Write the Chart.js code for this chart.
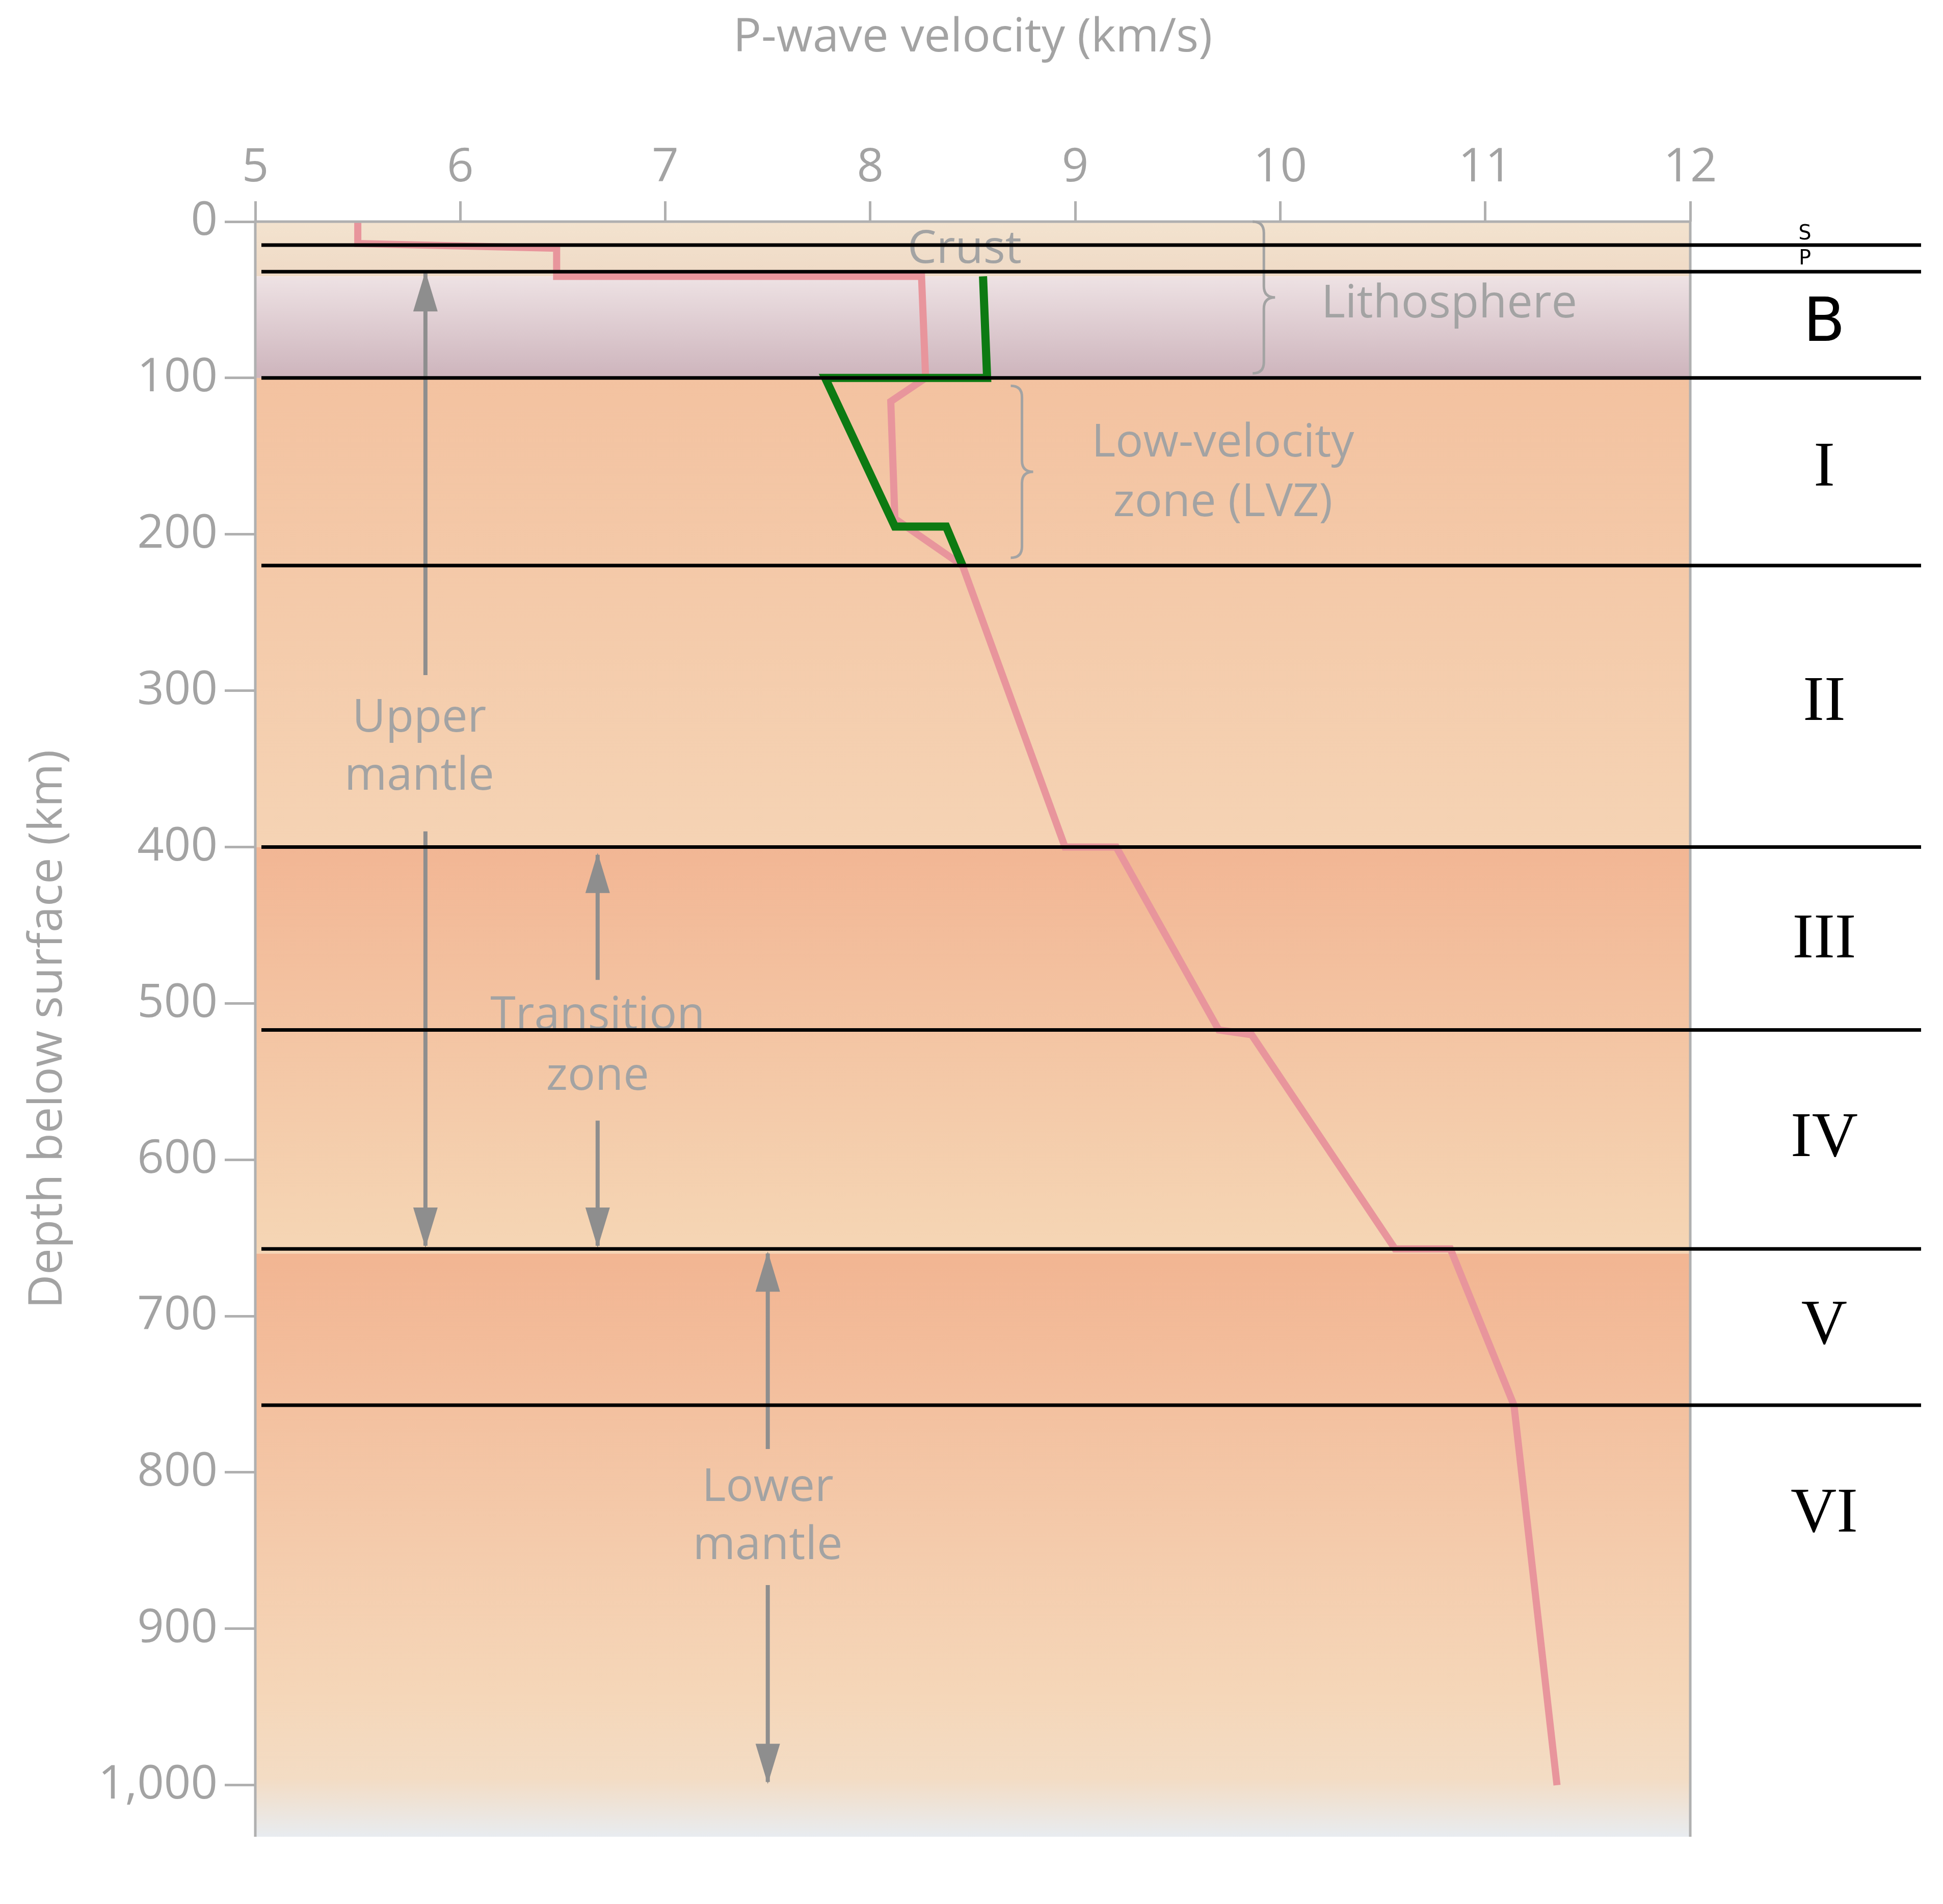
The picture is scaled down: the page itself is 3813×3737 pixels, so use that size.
<!DOCTYPE html>
<html><head><meta charset="utf-8">
<script src="https://cdn.jsdelivr.net/npm/chart.js@4/dist/chart.umd.min.js"></script>
<style>html,body{margin:0;padding:0;background:#fff}canvas{display:block}</style>
</head><body>
<div style="width:3813px;height:3737px"><canvas id="c"></canvas></div>
<script>
const xTicks = [5,6,7,8,9,10,11,12];
const yTicks = [0,100,200,300,400,500,600,700,800,900,1000];
const redVel   = [5.5,5.5,6.47,6.47,8.25,8.27,8.1,8.12,8.45,8.95,9.2,9.7,9.86,10.56,10.83,11.14,11.35];
const redDepth = [0,14,17,35,35,100,115,190,220,400,400,517,520,657,657,757,1000];
const greenVel   = [8.55,8.57,7.78,8.12,8.37,8.45];
const greenDepth = [35,100,100,195,195,220];
const boundaryDepths = [15,32,100,220,400,517,657,757];
const layerLabels = [["S",8],["P",24],["B",66],["I",158],["II",308],["III",460],["IV",587],["V",707],["VI",827]];

const gray = '#a3a3a3';
const bg = {id:'bg', beforeDatasetsDraw(ch){
  const {ctx,chartArea:a,scales:{x,y}} = ch;
  const band=(d0,d1,stops)=>{const y0=y.getPixelForValue(d0),y1=y.getPixelForValue(d1);
    const g=ctx.createLinearGradient(0,y0,0,y1);stops.forEach(s=>g.addColorStop(s[0],s[1]));
    ctx.fillStyle=g;ctx.fillRect(a.left,y0,a.right-a.left,y1-y0);};
  band(0,35,[[0,'#f3e3cf'],[1,'#efdac6']]);
  band(35,100,[[0,'#eee2e4'],[1,'#cdb4bc']]);
  band(100,400,[[0,'#f3c2a0'],[1,'#f5d3b4']]);
  band(400,660,[[0,'#f2b694'],[1,'#f5d6b5']]);
  band(660,1033,[[0,'#f2b592'],[0.75,'#f5d6b8'],[0.9,'#f3dcc4'],[1,'#e8ecf0']]);
}};
const over = {id:'over', afterDatasetsDraw(ch){
  const {ctx,chartArea:a,scales:{x,y}} = ch;
  ctx.save();
  ctx.strokeStyle='#b0b0b0';ctx.lineWidth=5;
  ctx.beginPath();ctx.moveTo(a.left,a.bottom);ctx.lineTo(a.left,a.top);ctx.lineTo(a.right,a.top);ctx.lineTo(a.right,a.bottom);ctx.stroke();
  ctx.fillStyle=gray;ctx.strokeStyle=gray;ctx.textAlign='center';ctx.textBaseline='middle';
  ctx.font='90px "Open Sans"';
  const t=(s,v,d)=>ctx.fillText(s,x.getPixelForValue(v),y.getPixelForValue(d));
  t('Crust',8.46,18);
  ctx.textAlign='left';t('Lithosphere',10.2,53);ctx.textAlign='center';
  t('Low-velocity',9.72,142);t('zone (LVZ)',9.72,180);
  t('Upper',5.8,318);t('mantle',5.8,355);
  t('Transition',6.67,508);t('zone',6.67,547);
  t('Lower',7.5,810);t('mantle',7.5,847);
  const brace=(v,d0,d1)=>{const px=x.getPixelForValue(v),y0=y.getPixelForValue(d0),y1=y.getPixelForValue(d1),m=(y0+y1)/2,w=22;
    ctx.lineWidth=5;ctx.beginPath();ctx.moveTo(px-w,y0);ctx.quadraticCurveTo(px,y0,px,y0+w);ctx.lineTo(px,m-w);ctx.quadraticCurveTo(px,m,px+w,m);
    ctx.quadraticCurveTo(px,m,px,m+w);ctx.lineTo(px,y1-w);ctx.quadraticCurveTo(px,y1,px-w,y1);ctx.stroke();};
  brace(9.92,0,97);
  brace(8.74,105,215);
  const arrow=(v,d0,d1,up)=>{const px=x.getPixelForValue(v),y0=y.getPixelForValue(d0),y1=y.getPixelForValue(d1);
    ctx.fillStyle='#8e8e8e';ctx.strokeStyle='#8e8e8e';ctx.lineWidth=8;ctx.beginPath();ctx.moveTo(px,y0);ctx.lineTo(px,y1);ctx.stroke();
    const tip=up?y0:y1,dir=up?1:-1;ctx.beginPath();ctx.moveTo(px,tip-dir*4);ctx.lineTo(px-24,tip+dir*75);ctx.lineTo(px+24,tip+dir*75);ctx.closePath();ctx.fill();};
  arrow(5.83,33,290,true);arrow(5.83,390,655,false);
  arrow(6.67,405,485,true);arrow(6.67,575,655,false);
  arrow(7.5,660,785,true);arrow(7.5,872,998,false);
  ctx.strokeStyle='#000';ctx.lineWidth=7;
  boundaryDepths.forEach(d=>{const py=y.getPixelForValue(d);ctx.beginPath();ctx.moveTo(a.left+12,py);ctx.lineTo(3770,py);ctx.stroke();});
  ctx.fillStyle='#000';ctx.textAlign='center';
  layerLabels.forEach(([s,d])=>{const py=y.getPixelForValue(d);
    if(s==='S'||s==='P'){ctx.font='40px "DejaVu Sans"';}
    else if(s==='B'){ctx.font='120px "DejaVu Sans"';}
    else ctx.font='125px "Liberation Serif"';
    ctx.fillText(s,s==='S'||s==='P'?3542:3580,py);});
  ctx.restore();
}};

new Chart(document.getElementById('c'),{
  type:'scatter',
  data:{datasets:[
    {data:redVel.map((v,i)=>({x:v,y:redDepth[i]})),showLine:true,borderColor:'#e8959c',borderWidth:14,pointRadius:0,order:2},
    {data:greenVel.map((v,i)=>({x:v,y:greenDepth[i]})),showLine:true,borderColor:'#0d7a12',borderWidth:16,pointRadius:0,order:1}
  ]},
  plugins:[bg,over],
  options:{responsive:true,maintainAspectRatio:false,animation:false,
    layout:{padding:{left:0,right:496,top:0,bottom:132}},
    plugins:{legend:{display:false},tooltip:{enabled:false}},
    scales:{
      x:{type:'linear',position:'top',min:5,max:12,afterBuildTicks:s=>{s.ticks=xTicks.map(v=>({value:v}));},
        afterFit:s=>{s.height=435;},
        grid:{display:true,drawOnChartArea:false,drawTicks:true,tickLength:40,color:'#b0b0b0',lineWidth:5},
        border:{display:false},
        ticks:{color:gray,font:{size:92,family:'"Open Sans"'},padding:10},
        title:{display:true,text:'P-wave velocity (km/s)',color:gray,font:{size:92,family:'"Open Sans"'},padding:{top:20,bottom:40}}},
      y:{type:'linear',reverse:true,min:0,max:1033,afterBuildTicks:s=>{s.ticks=yTicks.map(v=>({value:v}));},
        afterFit:s=>{s.width=501;},
        grid:{display:true,drawOnChartArea:false,drawTicks:true,tickLength:60,color:'#b0b0b0',lineWidth:5},
        border:{display:false},
        ticks:{color:gray,font:{size:92,family:'"Open Sans"'},padding:14,callback:v=>v.toLocaleString('en-US')},
        title:{display:true,text:'Depth below surface (km)',color:gray,font:{size:92,family:'"Open Sans"'},padding:{top:40,bottom:10}}}
    }}
});
</script></body></html>
